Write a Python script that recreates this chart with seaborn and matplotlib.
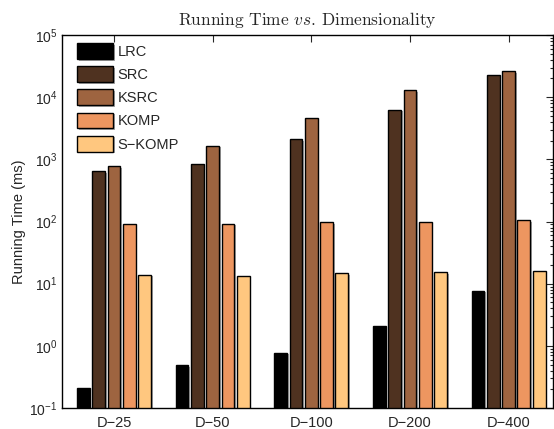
import numpy as np
import pandas as pd
import matplotlib
matplotlib.use('Agg')
import matplotlib.pyplot as plt
import matplotlib.patheffects as pe
from matplotlib.ticker import LogLocator, NullFormatter
import seaborn as sns

# values (ms)
groups = ['D\u221225', 'D\u221250', 'D\u2212100', 'D\u2212200', 'D\u2212400']
methods = ['LRC', 'SRC', 'KSRC', 'KOMP', 'S\u2212KOMP']
lrc = [0.21, 0.49, 0.78, 2.1, 7.7]
src = [650, 830, 2100, 6300, 23000]
ksrc = [780, 1650, 4700, 13000, 26000]
komp = [92, 92, 97, 100, 106]
skomp = [13.9, 13.4, 14.6, 15.4, 16.0]

series = [lrc, src, ksrc, komp, skomp]
df = pd.DataFrame({
    'group': [g for s in series for g in groups],
    'method': [m for m, s in zip(methods, series) for _ in s],
    'time': [v for s in series for v in s],
})

colors = [tuple(c[:3]) for c in plt.cm.copper(np.linspace(0, 1, 5))]

sns.set_style('white')
plt.rcParams['font.family'] = ['Liberation Sans', 'DejaVu Sans']
plt.rcParams['mathtext.fontset'] = 'custom'
plt.rcParams['mathtext.rm'] = 'Liberation Sans'
plt.rcParams['mathtext.it'] = 'cmmi10'

fig = plt.figure(figsize=(5.54, 4.29), dpi=100)
ax = fig.add_axes([62 / 554, 21 / 429, 491 / 554, 373 / 429])
ax.set_yscale('log')

sns.barplot(data=df, x='group', y='time', hue='method', hue_order=methods,
            order=groups, palette=colors, saturation=1, width=0.775, gap=0.16,
            edgecolor='black', linewidth=1.0, ax=ax)

for bar in ax.patches:
    bar.set_path_effects([pe.SimplePatchShadow(offset=(1.2, -1.2), shadow_rgbFace='0.5', alpha=0.7),
                          pe.Normal()])

ax.set_ylim(0.1, 1e5)
ax.set_xlim(-0.527, 4.45)

ax.yaxis.set_major_locator(LogLocator(base=10, numticks=10))
ax.yaxis.set_minor_locator(LogLocator(base=10, subs=np.arange(2, 10), numticks=20))
ax.yaxis.set_minor_formatter(NullFormatter())
ax.tick_params(axis='both', which='both', direction='in', top=True, right=True,
               labelsize=10.5, width=0.8)
ax.tick_params(axis='both', which='major', length=5)
ax.tick_params(axis='y', which='minor', length=2.5)
ax.tick_params(axis='x', which='major', pad=6)
ax.tick_params(axis='y', which='major', labelsize=10)
for sp in ax.spines.values():
    sp.set_linewidth(1.0)
    sp.set_color('black')

ax.set_xlabel('')
ax.set_ylabel('Running Time (ms)', fontsize=10.5, labelpad=2)
ax.set_title(r'Running Time $\mathit{vs}$. Dimensionality', fontsize=12.5,
             family='cmr10', pad=7)

handles, labels = ax.get_legend_handles_labels()
ax.legend(handles, labels, loc='upper left', bbox_to_anchor=(15 / 491, 1 - 8 / 373),
          frameon=False, fontsize=10.5, handlelength=2.5, handleheight=1.3,
          labelspacing=0.5, handletextpad=0.3, borderpad=0, borderaxespad=0)

fig.savefig('out.png', dpi=100)
